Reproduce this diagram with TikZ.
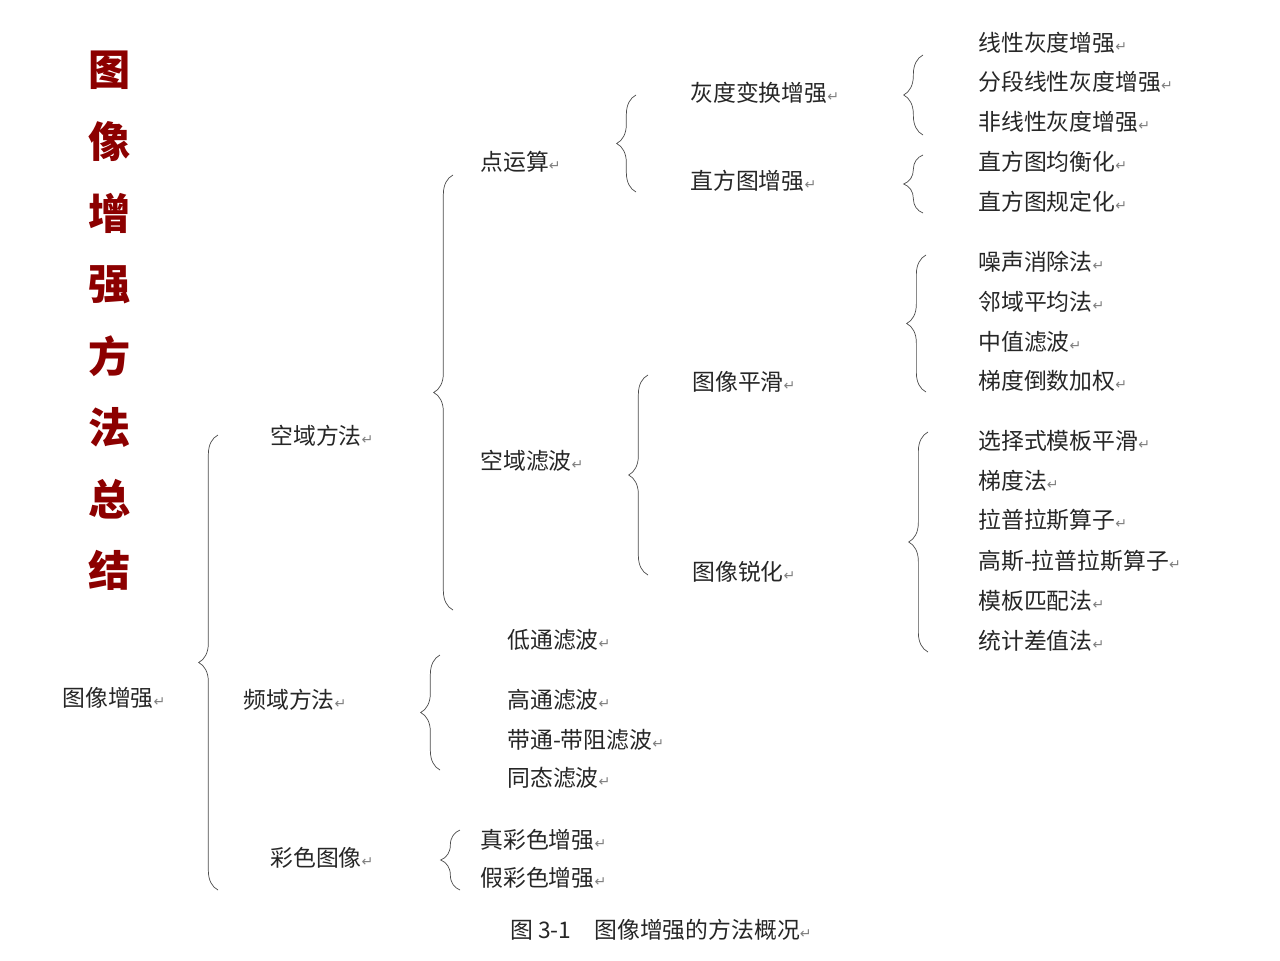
\documentclass[tikz,border=0pt]{standalone}
\usepackage{fontspec}
\setmainfont{Noto Sans CJK SC}
\newfontfamily\dejavu{DejaVu Sans}
\usetikzlibrary{positioning,decorations.pathreplacing}
\definecolor{titlered}{RGB}{140,0,0}
\newcommand{\rt}{{\color{gray}\fontsize{8}{8}\selectfont\dejavu ↵}}
\tikzset{%
  item/.style   = {anchor=west, inner sep=0pt, font=\fontsize{13}{15}\selectfont, text=black!85},
  title/.style  = {text=titlered, font=\fontsize{24}{26}\selectfont\bfseries, inner sep=0pt},
  curly/.style  = {decorate, decoration={brace, amplitude=11pt}, thin, black!70}
}
\newcommand{\brc}[3]{\draw[curly] (#1+8,#3) -- (#1+8,#2);}

\begin{document}
\begin{tikzpicture}[x=0.02cm, y=-0.02cm]
  \useasboundingbox (0,0) rectangle (1280,960);

  % title
  \foreach \c [count=\i] in {图,像,增,强,方,法,总,结}
    \node[title] (t\i) at (110, {70+(\i-1)*71.5}) {\c};

  % root and first level
  \node[item] (root) at (62,698) {图像增强\rt};
  \brc{210}{435}{890}
  \node[item] (spatial) at (270,436) {空域方法\rt};
  \node[item] (freq) at (243,700) {频域方法\rt};
  \node[item] (color) at (270,858) {彩色图像\rt};

  % spatial domain
  \brc{445}{175}{610}
  \node[item] (point) at (480,162) {点运算\rt};
  \node[item] (sfilter) at (480,461) {空域滤波\rt};

  % frequency domain
  \brc{432}{655}{770}
  \node[item] (low) at (507,640) {低通滤波\rt};
  \node[item] (high) at (507,700) {高通滤波\rt};
  \node[item] (band) at (507,740) {带通-带阻滤波\rt};
  \node[item] (homo) at (507,778) {同态滤波\rt};

  % colour
  \brc{452}{830}{890}
  \node[item] (truec) at (480,840) {真彩色增强\rt};
  \node[item] (falsec) at (480,878) {假彩色增强\rt};

  % point operations
  \brc{628}{95}{192}
  \node[item] (gray) at (690,93) {灰度变换增强\rt};
  \node[item] (hist) at (690,181) {直方图增强\rt};

  \brc{915}{55}{135}
  \node[item] (g1) at (978,43) {线性灰度增强\rt};
  \node[item] (g2) at (978,82) {分段线性灰度增强\rt};
  \node[item] (g3) at (978,122) {非线性灰度增强\rt};

  \brc{915}{155}{213}
  \node[item] (h1) at (978,162) {直方图均衡化\rt};
  \node[item] (h2) at (978,202) {直方图规定化\rt};

  % spatial filtering
  \brc{640}{375}{575}
  \node[item] (smooth) at (692,382) {图像平滑\rt};
  \node[item] (sharp) at (692,572) {图像锐化\rt};

  \brc{918}{255}{392}
  \node[item] (s1) at (978,262) {噪声消除法\rt};
  \node[item] (s2) at (978,302) {邻域平均法\rt};
  \node[item] (s3) at (978,342) {中值滤波\rt};
  \node[item] (s4) at (978,381) {梯度倒数加权\rt};

  \brc{920}{432}{652}
  \node[item] (r1) at (978,441) {选择式模板平滑\rt};
  \node[item] (r2) at (978,481) {梯度法\rt};
  \node[item] (r3) at (978,520) {拉普拉斯算子\rt};
  \node[item] (r4) at (978,561) {高斯-拉普拉斯算子\rt};
  \node[item] (r5) at (978,601) {模板匹配法\rt};
  \node[item] (r6) at (978,641) {统计差值法\rt};

  % caption
  \node[item] (caption) at (510,930) {图 3-1\quad 图像增强的方法概况\rt};
\end{tikzpicture}
\end{document}
